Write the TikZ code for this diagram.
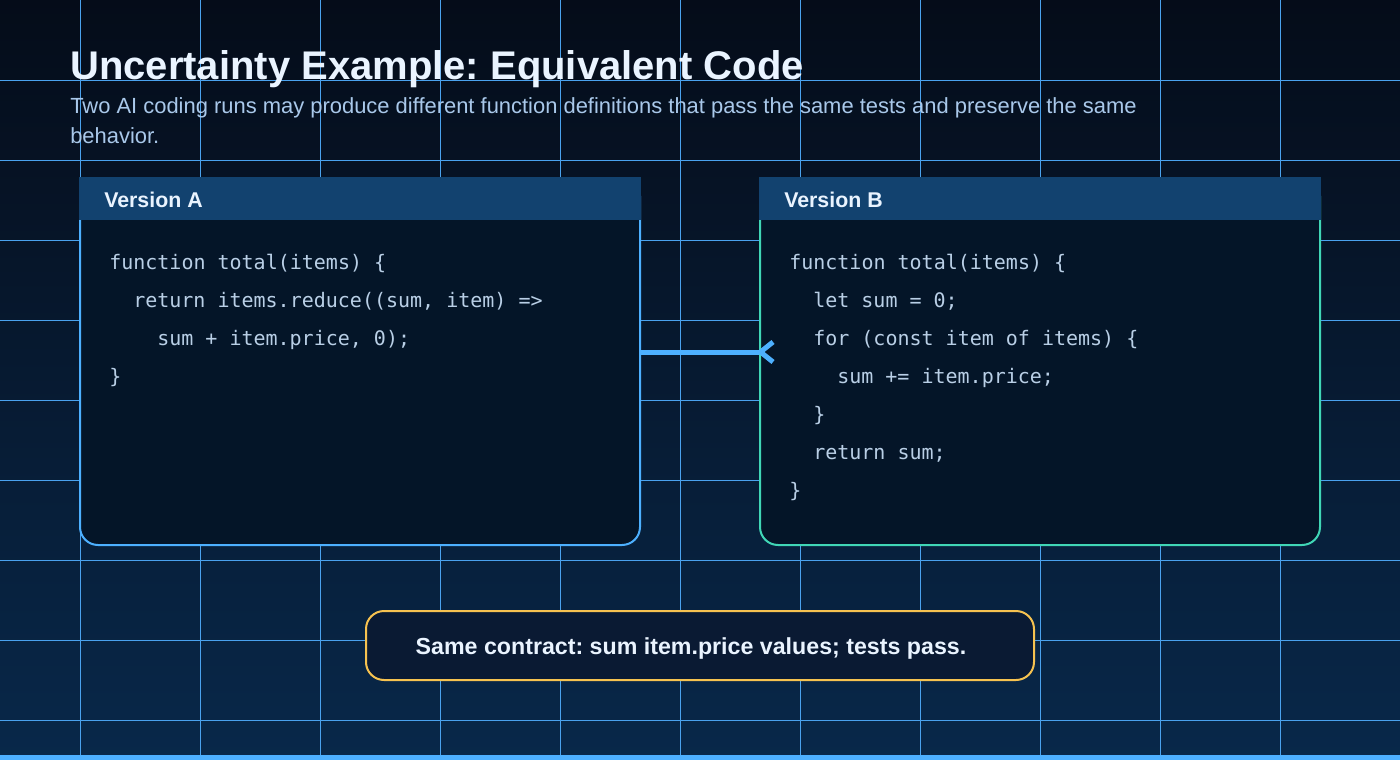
\documentclass[tikz,border=0pt]{standalone}
\usepackage{fontspec}
\setmainfont{Liberation Sans}
\setsansfont{Liberation Sans}
\setmonofont{DejaVu Sans Mono}
\usetikzlibrary{fit,calc}
\definecolor{bgtop}{HTML}{050C19}
\definecolor{bgbot}{HTML}{08284A}
\definecolor{gridc}{HTML}{4AA2EE}
\definecolor{boxfill}{HTML}{041528}
\definecolor{hdrfill}{HTML}{12426F}
\definecolor{blueln}{HTML}{4DB0FF}
\definecolor{tealln}{HTML}{40D6B6}
\definecolor{amber}{HTML}{F6C250}
\definecolor{notefill}{HTML}{0A1A33}
\definecolor{titlec}{HTML}{EAF4FF}
\definecolor{subc}{HTML}{A9C8EA}
\definecolor{codec}{HTML}{B9CFE6}
\begin{document}
\frenchspacing
\begin{tikzpicture}[x=0.75pt,y=-0.75pt,
  panel/.style={inner sep=0pt, fill=boxfill, line width=1.5pt, rounded corners=13.5pt},
  hdr/.style={inner sep=0pt, fill=hdrfill},
  hdrtext/.style={inner sep=0pt, anchor=base west, text=titlec, font=\bfseries\fontsize{16}{19}\selectfont},
  code/.style={inner sep=0pt, anchor=base west, text=codec, font=\ttfamily\fontsize{15}{18}\selectfont},
  sub/.style={inner sep=0pt, anchor=base west, text=subc, font=\fontsize{16.45}{19}\selectfont},
  link/.style={draw=blueln, line width=3.75pt},
]
\useasboundingbox (0,0) rectangle (1400,760);
\shade[top color=bgtop, bottom color=bgbot] (0,0) rectangle (1400,760);
% grid
\foreach \x in {80,200,...,1280} \draw[gridc, line width=0.75pt] (\x,0) -- (\x,760);
\foreach \y in {80,160,...,720} \draw[gridc, line width=0.75pt] (0,\y) -- (1400,\y);
% title
\node[inner sep=0pt, anchor=base west, text=titlec, font=\bfseries\fontsize{30}{36}\selectfont] (title) at (70,79) {Uncertainty Example: Equivalent Code};
\node[sub] (sub1) at (70,113) {Two AI coding runs may produce different function definitions that pass the same tests and preserve the same};
\node[sub] (sub2) at (70,143) {behavior.};
% panels
\node[panel, draw=blueln, fit={(80,178) (640,545)}] (boxA) {};
\node[panel, draw=tealln, fit={(760,178) (1320,545)}] (boxB) {};
\node[hdr, fit={(79,176.5) (641,220)}] (hdrA) {};
\node[hdr, fit={(759,176.5) (1321,220)}] (hdrB) {};
\node[hdrtext] (tA) at (104,207.5) {Version A};
\node[hdrtext] (tB) at (784,207.5) {Version B};
% code A
\node[code] (a1) at (109,269) {function total(items) \{};
\node[code] (a2) at (133,307) {return items.reduce((sum, item) =>};
\node[code] (a3) at (157,345) {sum + item.price, 0);};
\node[code] (a4) at (109,383) {\}};
% code B
\node[code] (b1) at (789,269) {function total(items) \{};
\node[code] (b2) at (813,307) {let sum = 0;};
\node[code] (b3) at (813,345) {for (const item of items) \{};
\node[code] (b4) at (837,383) {sum += item.price;};
\node[code] (b5) at (813,421) {\}};
\node[code] (b6) at (813,459) {return sum;};
\node[code] (b7) at (789,497) {\}};
% connector
\coordinate (lvl) at (700,352);
\draw[link] (boxA.east |- lvl) -- (boxB.west |- lvl) coordinate (tip);
\draw[link, line join=miter] ($(tip)+(14,-10)$) -- ($(tip)+(1.5,0)$) -- ($(tip)+(14,10)$);
% note
\node[inner sep=0pt, fill=notefill, draw=amber, line width=1.5pt, rounded corners=13.5pt, fit={(366,611) (1034,680)}] (note) {};
\node[inner sep=0pt, anchor=base, text=titlec, font=\bfseries\fontsize{17.4}{20}\selectfont] (notet) at (691,654) {Same contract: sum item.price values; tests pass.};
% bottom bar
\fill[blueln] (0,755) rectangle (1400,760);
\end{tikzpicture}
\end{document}
